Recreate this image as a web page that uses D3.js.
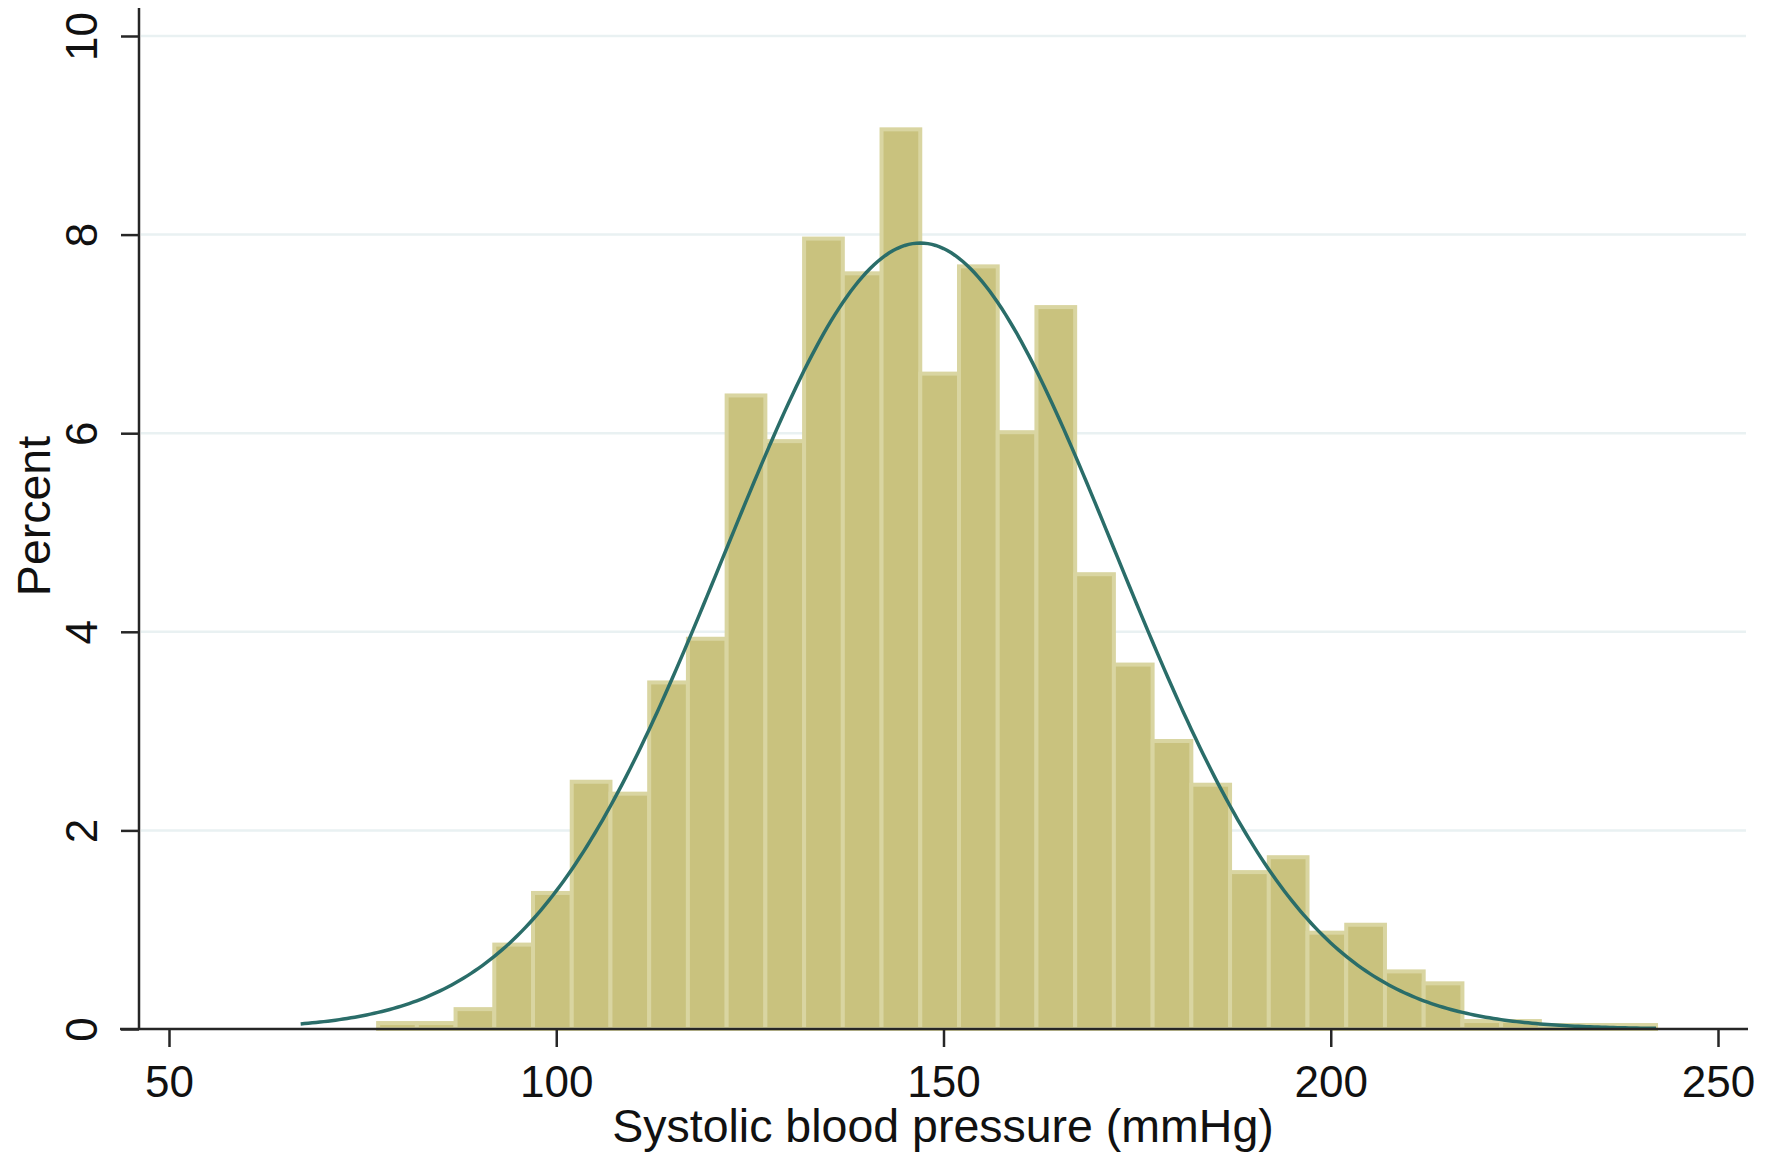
<!DOCTYPE HTML>
<html>
<head>
	<title>Systolic blood pressure histogram</title>
	<meta http-equiv="Content-Type" content="text/html; charset=utf-8">
	<script src="https://cdn.jsdelivr.net/npm/d3@7"></script>
	<style type="text/css">
		body {
			margin: 0;
			background-color: #ffffff;
		}
		.bar {
			fill:         #c9c27e;
			stroke:       #d9d5a1;
			stroke-width: 4;
		}
		.grid {
			stroke:       #e9f1f2;
			stroke-width: 2.5;
		}
		.axisLine {
			stroke:       #262626;
			stroke-width: 2.5;
		}
		.curve {
			fill:         none;
			stroke:       #2a6d69;
			stroke-width: 3.5;
		}
		.tick text, .label {
			font-family:  "Liberation Sans", Arial, sans-serif;
			fill:         #111;
		}
	</style>
</head>
<body>
	<div id="picture"></div>
	<script>
var width  = 1768;
var height = 1157;

// histogram: bin starts (mmHg), width 5, heights in percent
var binStart = [77, 82, 87, 92, 97, 102, 107, 112, 117, 122, 127, 132, 137, 142, 147, 152, 157,
                162, 167, 172, 177, 182, 187, 192, 197, 202, 207, 212, 217, 222, 227, 232, 237];
var binWidth = 5;
var percent  = [0.06, 0.06, 0.20, 0.85, 1.37, 2.49, 2.37, 3.49, 3.93, 6.38, 5.92, 7.96, 7.61, 9.06, 6.60, 7.68, 6.01,
                7.27, 4.58, 3.67, 2.90, 2.46, 1.58, 1.73, 0.97, 1.05, 0.58, 0.46, 0.08, 0.08, 0.04, 0.04, 0.04];

// fitted normal overlay
var normMean = 147;
var normSd   = 25.2;
var normFrom = 67;
var normTo   = 242;

var xTicks = [50, 100, 150, 200, 250];
var yTicks = [0, 2, 4, 6, 8, 10];
var xTitle = "Systolic blood pressure (mmHg)";
var yTitle = "Percent";

var x = d3.scaleLinear().domain([50, 250]).range([169, 1718]);
var y = d3.scaleLinear().domain([0, 10]).range([1029, 36]);
var yAxisX = 139;

var svg = d3.select("#picture")
	.append("svg")
		.attr("width",  width)
		.attr("height", height);

// grid lines
svg.selectAll(".grid")
	.data(yTicks.filter(function(d) { return d > 0; }))
	.enter().append("line")
		.attr("class", "grid")
		.attr("x1", yAxisX + 2)
		.attr("x2", 1746)
		.attr("y1", function(d) { return y(d); })
		.attr("y2", function(d) { return y(d); });

// bars
svg.selectAll(".bar")
	.data(binStart)
	.enter().append("rect")
		.attr("class", "bar")
		.attr("x",      function(d) { return x(d); })
		.attr("width",  function(d) { return x(d + binWidth) - x(d); })
		.attr("y",      function(d, i) { return y(percent[i]); })
		.attr("height", function(d, i) { return y(0) - y(percent[i]); });

// normal curve scaled to percent per bin
function density(v) {
	var z = (v - normMean) / normSd;
	return 100 * binWidth * Math.exp(-0.5 * z * z) / (normSd * Math.sqrt(2 * Math.PI));
}
var curveX = d3.range(normFrom, normTo + 0.01, 0.5);
svg.append("path")
	.attr("class", "curve")
	.attr("d", d3.line()
		.x(function(d) { return x(d); })
		.y(function(d) { return y(density(d)); })
		(curveX));

// x axis
var xAxis = svg.append("g")
	.attr("transform", "translate(0," + y(0) + ")")
	.call(d3.axisBottom(x).tickValues(xTicks).tickSize(18).tickPadding(19).tickFormat(d3.format("d")));
xAxis.select(".domain").remove();
xAxis.selectAll(".tick line").attr("stroke", "#262626").attr("stroke-width", 2.5);
xAxis.selectAll(".tick text").attr("font-size", 44).attr("dy", "0.71em");

svg.append("line")
	.attr("class", "axisLine")
	.attr("x1", 120).attr("x2", 1748)
	.attr("y1", y(0)).attr("y2", y(0));

// y axis
svg.append("line")
	.attr("class", "axisLine")
	.attr("x1", yAxisX).attr("x2", yAxisX)
	.attr("y1", 8).attr("y2", y(0) + 1);

var yAxis = svg.append("g")
	.attr("transform", "translate(" + yAxisX + ",0)")
	.call(d3.axisLeft(y).tickValues(yTicks).tickSize(18).tickFormat(d3.format("d")));
yAxis.select(".domain").remove();
yAxis.selectAll(".tick line").attr("stroke", "#262626").attr("stroke-width", 2.5);
yAxis.selectAll(".tick text")
	.attr("font-size", 44)
	.attr("text-anchor", "middle")
	.attr("x", null).attr("dy", null)
	.attr("transform", "translate(-42,0) rotate(-90)");

// titles
svg.append("text")
	.attr("class", "label")
	.attr("x", 943)
	.attr("y", 1142)
	.attr("text-anchor", "middle")
	.attr("font-size", 46.5)
	.text(xTitle);

svg.append("text")
	.attr("class", "label")
	.attr("transform", "translate(50,516) rotate(-90)")
	.attr("text-anchor", "middle")
	.attr("font-size", 46.5)
	.text(yTitle);
	</script>
</body>
</html>
